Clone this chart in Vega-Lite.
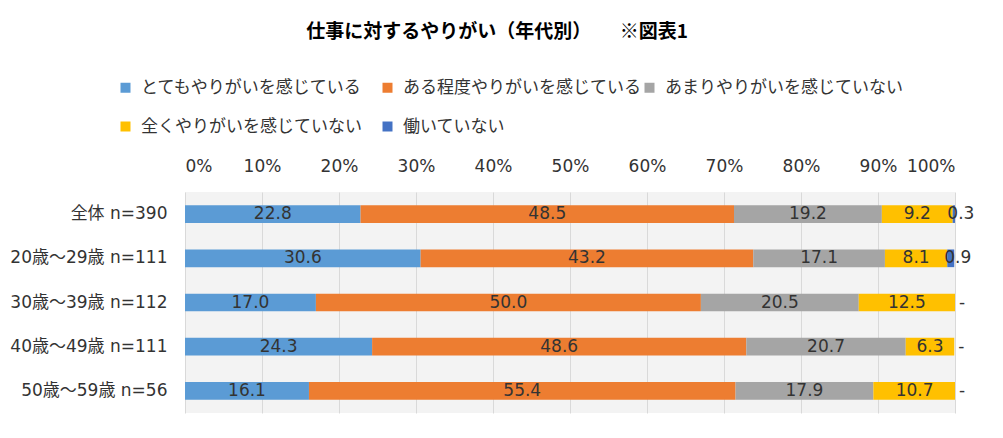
{
  "$schema": "https://vega.github.io/schema/vega-lite/v6.json",
  "width": 770,
  "height": 221,
  "autosize": {"type": "none"},
  "padding": {"left": 185, "top": 192, "right": 48, "bottom": 25},
  "background": "white",
  "config": {
    "font": "DejaVu Sans, Noto Sans CJK JP",
    "view": {"stroke": null, "fill": "#f3f3f3"}
  },
  "title": {
    "text": "仕事に対するやりがい（年代別）　　※図表1",
    "font": "Noto Sans CJK JP",
    "fontSize": 19,
    "fontWeight": "bold",
    "color": "#000000",
    "anchor": "middle",
    "dx": -73,
    "dy": -33
  },
  "data": {
    "values": [
      {"g": "全体 n=390", "c": "とてもやりがいを感じている", "k": 1, "v": 22.8},
      {"g": "全体 n=390", "c": "ある程度やりがいを感じている", "k": 2, "v": 48.5},
      {"g": "全体 n=390", "c": "あまりやりがいを感じていない", "k": 3, "v": 19.2},
      {"g": "全体 n=390", "c": "全くやりがいを感じていない", "k": 4, "v": 9.2},
      {"g": "全体 n=390", "c": "働いていない", "k": 5, "v": 0.3},
      {"g": "20歳～29歳 n=111", "c": "とてもやりがいを感じている", "k": 1, "v": 30.6},
      {"g": "20歳～29歳 n=111", "c": "ある程度やりがいを感じている", "k": 2, "v": 43.2},
      {"g": "20歳～29歳 n=111", "c": "あまりやりがいを感じていない", "k": 3, "v": 17.1},
      {"g": "20歳～29歳 n=111", "c": "全くやりがいを感じていない", "k": 4, "v": 8.1},
      {"g": "20歳～29歳 n=111", "c": "働いていない", "k": 5, "v": 0.9},
      {"g": "30歳～39歳 n=112", "c": "とてもやりがいを感じている", "k": 1, "v": 17.0},
      {"g": "30歳～39歳 n=112", "c": "ある程度やりがいを感じている", "k": 2, "v": 50.0},
      {"g": "30歳～39歳 n=112", "c": "あまりやりがいを感じていない", "k": 3, "v": 20.5},
      {"g": "30歳～39歳 n=112", "c": "全くやりがいを感じていない", "k": 4, "v": 12.5},
      {"g": "30歳～39歳 n=112", "c": "働いていない", "k": 5, "v": 0},
      {"g": "40歳～49歳 n=111", "c": "とてもやりがいを感じている", "k": 1, "v": 24.3},
      {"g": "40歳～49歳 n=111", "c": "ある程度やりがいを感じている", "k": 2, "v": 48.6},
      {"g": "40歳～49歳 n=111", "c": "あまりやりがいを感じていない", "k": 3, "v": 20.7},
      {"g": "40歳～49歳 n=111", "c": "全くやりがいを感じていない", "k": 4, "v": 6.3},
      {"g": "40歳～49歳 n=111", "c": "働いていない", "k": 5, "v": 0},
      {"g": "50歳～59歳 n=56", "c": "とてもやりがいを感じている", "k": 1, "v": 16.1},
      {"g": "50歳～59歳 n=56", "c": "ある程度やりがいを感じている", "k": 2, "v": 55.4},
      {"g": "50歳～59歳 n=56", "c": "あまりやりがいを感じていない", "k": 3, "v": 17.9},
      {"g": "50歳～59歳 n=56", "c": "全くやりがいを感じていない", "k": 4, "v": 10.7},
      {"g": "50歳～59歳 n=56", "c": "働いていない", "k": 5, "v": 0}
    ]
  },
  "encoding": {
    "y": {
      "field": "g",
      "type": "nominal",
      "sort": ["全体 n=390", "20歳～29歳 n=111", "30歳～39歳 n=112", "40歳～49歳 n=111", "50歳～59歳 n=56"],
      "scale": {"paddingInner": 0.6, "paddingOuter": 0.3},
      "axis": {
        "title": null,
        "ticks": false,
        "domain": false,
        "labelPadding": 18,
        "labelFontSize": 17,
        "labelColor": "#333333"
      }
    }
  },
  "layer": [
    {
      "mark": {"type": "bar"},
      "encoding": {
        "x": {
          "field": "v",
          "type": "quantitative",
          "stack": "zero",
          "scale": {"domain": [0, 100], "nice": false, "clamp": true},
          "axis": {
            "orient": "top",
            "title": null,
            "values": [0, 10, 20, 30, 40, 50, 60, 70, 80, 90, 100],
            "labelExpr": "datum.value + '%'",
            "domain": false,
            "ticks": false,
            "labelPadding": 17,
            "labelFontSize": 17,
            "labelColor": "#333333",
            "gridColor": "#d9d9d9",
            "gridWidth": 1
          }
        },
        "color": {
          "field": "c",
          "type": "nominal",
          "scale": {
            "domain": ["とてもやりがいを感じている", "ある程度やりがいを感じている", "あまりやりがいを感じていない", "全くやりがいを感じていない", "働いていない"],
            "range": ["#5B9BD5", "#ED7D31", "#A5A5A5", "#FFC000", "#4472C4"]
          },
          "legend": {
            "orient": "none",
            "legendX": -68,
            "legendY": -113,
            "direction": "horizontal",
            "columns": 3,
            "title": null,
            "symbolType": "square",
            "symbolSize": 100,
            "symbolStrokeWidth": 0,
            "labelFontSize": 17,
            "labelFont": "Noto Sans CJK JP",
            "labelOffset": 7,
            "labelColor": "#333333",
            "labelLimit": 400,
            "rowPadding": 21,
            "columnPadding": -9,
            "gridAlign": "all",
            "padding": 0
          }
        },
        "order": {"field": "k"}
      }
    },
    {
      "transform": [
        {"stack": "v", "groupby": ["g"], "sort": [{"field": "k"}], "as": ["x0", "x1"]},
        {"calculate": "(datum.x0 + datum.x1) / 2", "as": "xm"},
        {"calculate": "datum.v == 0 ? '-' : format(datum.v, '.1f')", "as": "lbl"},
        {"filter": "datum.k < 5"}
      ],
      "mark": {"type": "text", "fontSize": 17, "color": "#333333"},
      "encoding": {
        "x": {"field": "xm", "type": "quantitative"},
        "text": {"field": "lbl", "type": "nominal"}
      }
    },
    {
      "transform": [
        {"stack": "v", "groupby": ["g"], "sort": [{"field": "k"}], "as": ["x0", "x1"]},
        {"calculate": "(datum.x0 + datum.x1) / 2", "as": "xm"},
        {"calculate": "datum.v == 0 ? '-' : format(datum.v, '.1f')", "as": "lbl"},
        {"filter": "datum.k == 5"}
      ],
      "mark": {"type": "text", "fontSize": 17, "color": "#333333", "dx": 7},
      "encoding": {
        "x": {"field": "xm", "type": "quantitative"},
        "text": {"field": "lbl", "type": "nominal"}
      }
    }
  ]
}
